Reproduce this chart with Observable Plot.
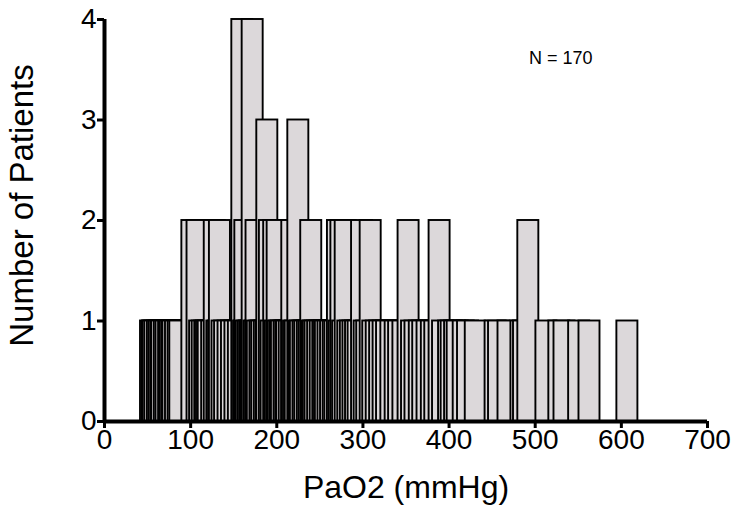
<!DOCTYPE html>
<html>
<head>
<meta charset="utf-8">
<script src="https://cdn.jsdelivr.net/npm/d3@7"></script>
<script src="https://cdn.jsdelivr.net/npm/@observablehq/plot@0.6"></script>
<style>
  html, body { margin: 0; padding: 0; background: #fff; }
  #chart svg { display: block; }
</style>
</head>
<body>
<div id="chart"></div>
<script>
// PaO2 values (mmHg) observed once, twice, three and four times
const valuesCount1 = [
  54, 56, 57, 59, 62, 64, 66, 67, 70, 72, 75, 77, 79, 80, 83, 86, 88,
  111, 114, 117, 119, 121, 125, 131, 133, 137, 140, 144, 148, 152, 156,
  162, 163, 165, 167, 169, 171, 174, 176, 178, 181, 183, 186, 188, 194, 199, 202, 204, 206, 209,
  211, 212, 215, 218, 220, 222, 226, 228, 231, 233, 236, 238, 241, 243, 245, 248, 251, 254, 256,
  257, 260, 263, 266, 268, 273, 277,
  283, 286, 289, 292, 295, 302, 305, 312, 316, 320, 324, 328, 333, 338, 342, 347, 357, 361, 366,
  370, 375, 380, 384, 393,
  400, 403, 407, 410, 417, 422, 431, 454, 458, 469, 484, 487, 513, 528, 534, 551, 563, 607
];
const valuesCount2 = [102, 108, 128, 134, 163.5, 176.5, 192, 197, 201, 218, 240, 271, 275, 280, 299, 309, 353, 389, 492];
const valuesCount3 = [189, 225];
const valuesCount4 = [160, 172];

const xTicks = [0, 100, 200, 300, 400, 500, 600, 700];
const yTicks = [0, 1, 2, 3, 4];
const nLabel = "N = 170";
const xTitle = "PaO2 (mmHg)";
const yTitle = "Number of Patients";
const barWidth = 24.4; // mmHg

const bars = [
  ...valuesCount1.map(v => ({value: v, count: 1})),
  ...valuesCount2.map(v => ({value: v, count: 2})),
  ...valuesCount3.map(v => ({value: v, count: 3})),
  ...valuesCount4.map(v => ({value: v, count: 4}))
].sort((a, b) => a.value - b.value);

const chart = Plot.plot({
  width: 739,
  height: 514,
  marginLeft: 104,
  marginRight: 32,
  marginTop: 19,
  marginBottom: 93,
  style: {fontFamily: "'Liberation Sans', Arial, sans-serif", fontSize: "28px", color: "#000", background: "#fff"},
  x: {domain: [0, 700]},
  y: {domain: [0, 4]},
  marks: [
    Plot.rectY(bars, {
      x1: d => d.value - barWidth / 2,
      x2: d => d.value + barWidth / 2,
      y1: 0,
      y2: "count",
      fill: "#dcd8da",
      stroke: "#000",
      strokeWidth: 1.9
    }),
    Plot.ruleY([0], {stroke: "#000", strokeWidth: 4}),
    Plot.ruleX([0], {stroke: "#000", strokeWidth: 4}),
    Plot.axisX({ticks: xTicks, tickSize: 7, strokeWidth: 3, label: null, tickFormat: () => ""}),
    Plot.axisY({ticks: yTicks, tickSize: 7, strokeWidth: 3, label: null, tickFormat: () => ""}),
    Plot.text(xTicks, {x: d => d, text: d => String(d), frameAnchor: "bottom", lineAnchor: "top", dy: 8, fontSize: 28}),
    Plot.text(yTicks, {y: d => d, text: d => String(d), frameAnchor: "left", textAnchor: "end", lineAnchor: "middle", dx: -8, fontSize: 28}),
    Plot.text([xTitle], {frameAnchor: "bottom", lineAnchor: "middle", dy: 66, fontSize: 32}),
    Plot.text([yTitle], {frameAnchor: "left", textAnchor: "middle", lineAnchor: "middle", rotate: -90, dx: -82, dy: -15, fontSize: 33}),
    Plot.text([nLabel], {frameAnchor: "top-right", textAnchor: "end", lineAnchor: "middle", dx: -115, dy: 39, fontSize: 18})
  ]
});
document.getElementById("chart").appendChild(chart);
</script>
</body>
</html>
